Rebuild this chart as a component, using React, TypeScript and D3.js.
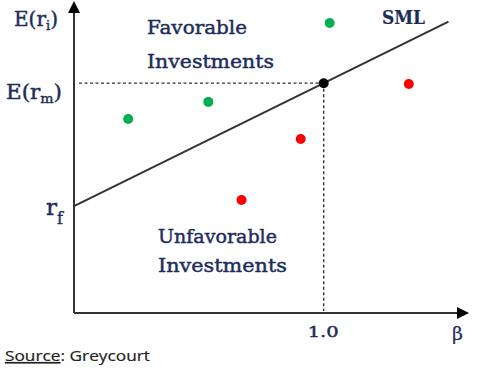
import React from "react";
import * as d3 from "d3";

const RF = 4.0;
const RM = 8.6;
const BETA_M = 1.0;
const SML_END_BETA = 1.5;
const greenBetas = [0.217, 0.538, 1.024];
const greenReturns = [7.26, 7.9, 10.85];
const redBetas = [0.908, 0.671, 1.341];
const redReturns = [6.51, 4.23, 8.57];
const xTickLabels = ["1.0"];

const W = 477;
const H = 375;
const NAVY = "#1c2d5c";
const SERIF = "'DejaVu Serif', 'Liberation Serif', serif";

export default function App() {
  const x = d3.scaleLinear().domain([0, 1.578]).range([74, 468]);
  const y = d3.scaleLinear().domain([0, 11.6]).range([313, 3]);
  const sml = (b: number) => RF + b * (RM - RF) / BETA_M;
  const line = d3.line<number>().x((b) => x(b)).y((b) => y(sml(b)));

  return (
    <svg width={W} height={H} style={{ position: "absolute", left: 0, top: 0, background: "#fff" }}>
      {/* axes */}
      <line x1={x(0)} y1={y(0)} x2={x(0)} y2={4} stroke="#333" strokeWidth={2} />
      <path d={`M${x(0) - 6},${13} L${x(0)},${1} L${x(0) + 6},${13} Z`} fill="#000" />
      <line x1={x(0)} y1={y(0)} x2={458} y2={y(0)} stroke="#333" strokeWidth={2} />
      <path d={`M${457},${y(0) - 6} L${469},${y(0)} L${457},${y(0) + 6} Z`} fill="#000" />

      {/* dashed guides */}
      <line x1={x(0) + 5} y1={y(RM)} x2={x(BETA_M)} y2={y(RM)} stroke="#333" strokeWidth={1.4} strokeDasharray="3,2.5" />
      <line x1={x(BETA_M)} y1={y(RM)} x2={x(BETA_M)} y2={y(0) - 2} stroke="#333" strokeWidth={1.4} strokeDasharray="3,2.5" />

      {/* SML */}
      <path d={line([0, SML_END_BETA]) || ""} stroke="#333" strokeWidth={2} fill="none" />

      {greenBetas.map((b, i) => (
        <circle key={"g" + i} cx={x(b)} cy={y(greenReturns[i])} r={5} fill="#00b050" />
      ))}
      {redBetas.map((b, i) => (
        <circle key={"r" + i} cx={x(b)} cy={y(redReturns[i])} r={5} fill="#ff0000" />
      ))}
      <circle cx={x(BETA_M)} cy={y(RM)} r={5} fill="#000" />

      {/* labels */}
      <g fill={NAVY} stroke={NAVY} strokeWidth={0.45} fontFamily={SERIF}>
        <text x={14} y={26} fontSize={20}>E(r<tspan fontSize={13} dy={4}>i</tspan><tspan dy={-4}>)</tspan></text>
        <text x={6} y={99} fontSize={20} textLength={56} lengthAdjust="spacingAndGlyphs">E(r<tspan fontSize={13} dy={4}>m</tspan><tspan dy={-4}>)</tspan></text>
        <text x={46} y={215} fontSize={23}>r<tspan fontSize={16} dy={9}>f</tspan></text>
        <text x={147} y={34} fontSize={19} textLength={100} lengthAdjust="spacingAndGlyphs">Favorable</text>
        <text x={147} y={68} fontSize={19} textLength={127} lengthAdjust="spacingAndGlyphs">Investments</text>
        <text x={158} y={243} fontSize={19} textLength={119} lengthAdjust="spacingAndGlyphs">Unfavorable</text>
        <text x={158} y={272} fontSize={19} textLength={129} lengthAdjust="spacingAndGlyphs">Investments</text>
        <text x={382} y={24} fontSize={19} fontWeight="bold" strokeWidth={0.2} textLength={43} lengthAdjust="spacingAndGlyphs">SML</text>
        {xTickLabels.map((t) => (
          <text key={t} x={x(BETA_M) - 16} y={337} fontSize={15} textLength={31} lengthAdjust="spacingAndGlyphs">{t}</text>
        ))}
        <text x={452} y={340} fontSize={19} strokeWidth={0.2}>β</text>
      </g>
      <text x={5} y={361} fontSize={15} fill="#222" stroke="#222" strokeWidth={0.2} textLength={145} lengthAdjust="spacingAndGlyphs" fontFamily="'Open Sans', 'Liberation Sans', sans-serif">
        <tspan textDecoration="underline">Source</tspan>: Greycourt
      </text>
    </svg>
  );
}
